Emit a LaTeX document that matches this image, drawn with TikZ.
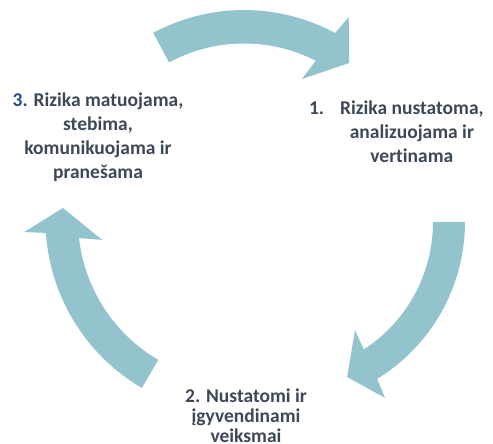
\documentclass[tikz,border=0pt]{standalone}
\usepackage{fontspec}
\setmainfont{Carlito}[Ligatures=NoCommon]
\definecolor{arrowc}{RGB}{147,196,206}
\definecolor{txt}{RGB}{60,72,88}
\definecolor{numblue}{RGB}{38,74,135}
\begin{document}
\begin{tikzpicture}[x=1pt,y=1pt,
  cyc/.style={fill=arrowc,draw=none},
  lbl/.style={inner sep=0pt,outer sep=0pt,text=txt,font=\bfseries\fontsize{19.5}{24}\selectfont,anchor=base}]
\useasboundingbox (0,0) rectangle (493,444);
% top arrow
\begin{scope}[shift={(244,242.5)}]
\fill[cyc] (118.3:191.5) arc[start angle=118.3,end angle=61.6,radius=191.5]
  -- (60.4:212) -- (52.8:173.8) -- (64.7:135.5) -- (63:158)
  arc[start angle=63,end angle=118.3,radius=158] -- cycle;
\end{scope}
% right arrow
\begin{scope}[shift={(281,222)}]
\fill[cyc] (0:184) arc[start angle=0,end angle=-58.5,radius=184]
  -- (-59.4:204.4) -- (-66.9:168.5) -- (-55.6:131) -- (-57:152)
  arc[start angle=-57,end angle=0,radius=152] -- cycle;
\end{scope}
% left arrow
\begin{scope}[shift={(240,224)}]
\fill[cyc] (239.7:194.5) arc[start angle=239.7,end angle=183.8,radius=194.5]
  -- (183.2:216.3) -- (176.1:177.4) -- (188.2:139.4) -- (186.4:162)
  arc[start angle=186.4,end angle=239.7,radius=162] -- cycle;
\end{scope}
% labels
\node[lbl] (s3) at (98,337) {\begin{tabular}[t]{@{}c@{}}{\color{numblue}3.} Rizika matuojama,\\ stebima,\\ komunikuojama ir\\ pranešama\end{tabular}};
\node[lbl,anchor=base west] (s1) at (309,329) {\begin{tabular}[t]{@{}l@{\hspace{16pt}}c@{}}1. & Rizika nustatoma,\\ & analizuojama ir\\ & vertinama\end{tabular}};
\node[lbl,font=\bfseries\fontsize{19.5}{20}\selectfont] (s2) at (246,41.3) {\begin{tabular}[t]{@{}c@{}}2. Nustatomi ir\\ įgyvendinami\\ veiksmai\end{tabular}};
\end{tikzpicture}
\end{document}
